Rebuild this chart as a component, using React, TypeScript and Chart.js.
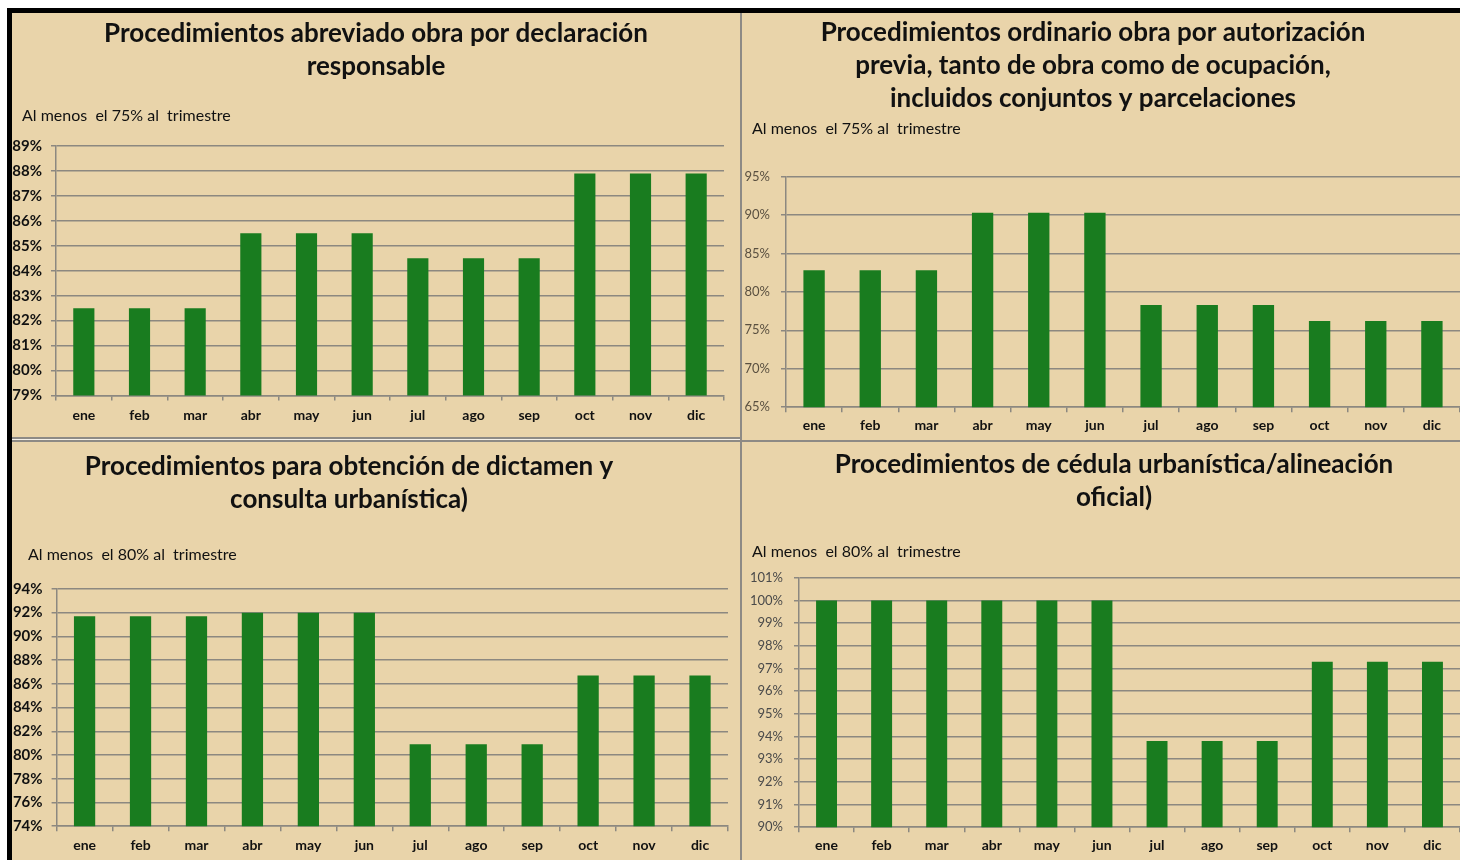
import React, { useEffect, useRef } from 'react';
import { Chart, registerables } from 'chart.js';

Chart.register(...registerables);

// ---------- data ----------
const months = ['ene', 'feb', 'mar', 'abr', 'may', 'jun', 'jul', 'ago', 'sep', 'oct', 'nov', 'dic'];

const abreviadoTitle = ['Procedimientos abreviado obra por declaración', 'responsable'];
const abreviadoNote = 'Al menos  el 75% al  trimestre';
const abreviadoValues = [82.5, 82.5, 82.5, 85.5, 85.5, 85.5, 84.5, 84.5, 84.5, 87.9, 87.9, 87.9];
const abreviadoAxis = { min: 79, max: 89, step: 1 };

const ordinarioTitle = [
  'Procedimientos ordinario obra por autorización',
  'previa, tanto de obra como de ocupación,',
  'incluidos conjuntos y parcelaciones',
];
const ordinarioNote = 'Al menos  el 75% al  trimestre';
const ordinarioValues = [82.8, 82.8, 82.8, 90.3, 90.3, 90.3, 78.3, 78.3, 78.3, 76.2, 76.2, 76.2];
const ordinarioAxis = { min: 65, max: 95, step: 5 };

const dictamenTitle = ['Procedimientos para obtención de dictamen y', 'consulta urbanística)'];
const dictamenNote = 'Al menos  el 80% al  trimestre';
const dictamenValues = [91.7, 91.7, 91.7, 92.0, 92.0, 92.0, 80.9, 80.9, 80.9, 86.7, 86.7, 86.7];
const dictamenAxis = { min: 74, max: 94, step: 2 };

const cedulaTitle = ['Procedimientos de cédula urbanística/alineación', 'oficial)'];
const cedulaNote = 'Al menos  el 80% al  trimestre';
const cedulaValues = [100, 100, 100, 100, 100, 100, 93.8, 93.8, 93.8, 97.3, 97.3, 97.3];
const cedulaAxis = { min: 90, max: 101, step: 1 };

// ---------- styles ----------
const FONT = 'Lato';
const BG = '#e9d4aa';
const BAR = '#197c1f';
const GRID = '#8c8880';

// Positions the title (centre) and the subtitle (left edge) inside the chart.
const titlePlacer = {
  id: 'titlePlacer',
  afterLayout(chart: any, _args: any, opts: any) {
    const t = chart.titleBlock;
    if (!t || !opts) return;
    if (opts.x != null) {
      const half = (t.right - t.left) / 2;
      t.left = opts.x - half;
      t.right = opts.x + half;
    }
    const sub = (chart.boxes || []).find((b: any) => b !== t && b.constructor === t.constructor);
    if (sub && opts.subX != null) {
      sub.left = opts.subX;
    }
  },
};

type Spec = {
  left: number; top: number; width: number; height: number;
  title: string[]; note: string; values: number[]; axis: { min: number; max: number; step: number };
  titleX: number; subX: number; titlePad: { top: number; bottom: number }; notePadBottom: number;
  pad: { right: number; bottom: number };
  yWidth: number; yPad: number; yBold: boolean; ySize: number; yColor: string; xPad: number;
};

const specs: Spec[] = [
  {
    left: 12, top: 13, width: 728, height: 424,
    title: abreviadoTitle, note: abreviadoNote, values: abreviadoValues, axis: abreviadoAxis,
    titleX: 364, subX: 10, titlePad: { top: 4.5, bottom: 24.7 }, notePadBottom: 21.8,
    pad: { right: 16, bottom: 5.7 },
    yWidth: 44, yPad: 9, yBold: true, ySize: 15, yColor: '#111', xPad: 7,
  },
  {
    left: 742, top: 13, width: 718, height: 426,
    title: ordinarioTitle, note: ordinarioNote, values: ordinarioValues, axis: ordinarioAxis,
    titleX: 351, subX: 10, titlePad: { top: 3.5, bottom: 5.5 }, notePadBottom: 39.5,
    pad: { right: 0, bottom: 0 },
    yWidth: 44, yPad: 11, yBold: false, ySize: 13, yColor: '#5a5040', xPad: 5,
  },
  {
    left: 12, top: 442, width: 728, height: 418,
    title: dictamenTitle, note: dictamenNote, values: dictamenValues, axis: dictamenAxis,
    titleX: 337, subX: 16, titlePad: { top: 8.5, bottom: 30.3 }, notePadBottom: 26.1,
    pad: { right: 12, bottom: 0 },
    yWidth: 44.6, yPad: 9, yBold: true, ySize: 15, yColor: '#111', xPad: 6,
  },
  {
    left: 742, top: 442, width: 718, height: 418,
    title: cedulaTitle, note: cedulaNote, values: cedulaValues, axis: cedulaAxis,
    titleX: 372, subX: 10, titlePad: { top: 6.5, bottom: 29.3 }, notePadBottom: 18.1,
    pad: { right: 0, bottom: 1 },
    yWidth: 57, yPad: 11, yBold: false, ySize: 13, yColor: '#4a4a4a', xPad: 5,
  },
];

function Panel({ spec }: { spec: Spec }) {
  const ref = useRef<HTMLCanvasElement | null>(null);
  useEffect(() => {
    if (!ref.current) return;
    const chart = new Chart(ref.current, {
      type: 'bar',
      data: {
        labels: months,
        datasets: [
          {
            data: spec.values,
            backgroundColor: BAR,
            borderWidth: 0,
            categoryPercentage: 1,
            barPercentage: 0.38,
          },
        ],
      },
      options: {
        responsive: false,
        animation: false,
        events: [],
        layout: { padding: { top: 0, left: 0, right: spec.pad.right, bottom: spec.pad.bottom } },
        plugins: {
          legend: { display: false },
          tooltip: { enabled: false },
          title: {
            display: true,
            text: spec.title,
            color: '#111',
            font: { family: FONT, size: 26, weight: 'bold', lineHeight: '33px' },
            padding: spec.titlePad,
          },
          subtitle: {
            display: true,
            text: spec.note,
            align: 'start',
            color: '#111',
            font: { family: FONT, size: 16, weight: 'normal', lineHeight: '16px' },
            padding: { top: 0, bottom: spec.notePadBottom },
          },
          titlePlacer: { x: spec.titleX, subX: spec.subX },
        } as any,
        scales: {
          x: {
            grid: { drawOnChartArea: false, offset: true, tickLength: 5, color: GRID, lineWidth: 1.5 },
            border: { color: GRID, width: 1.5 },
            ticks: {
              color: '#111',
              font: { family: FONT, size: 14, weight: 'bold' },
              padding: spec.xPad,
              autoSkip: false,
              maxRotation: 0,
            },
          },
          y: {
            min: spec.axis.min,
            max: spec.axis.max,
            grid: { tickLength: 5, color: GRID, lineWidth: 1.5 },
            border: { color: GRID, width: 1.5 },
            afterFit: (scale: any) => {
              scale.width = spec.yWidth;
            },
            ticks: {
              stepSize: spec.axis.step,
              color: spec.yColor,
              font: { family: FONT, size: spec.ySize, weight: spec.yBold ? 'bold' : 'normal' },
              padding: spec.yPad,
              callback: (v: any) => `${v}%`,
            },
          },
        },
      },
      plugins: [titlePlacer as any],
    });
    return () => chart.destroy();
  }, [spec]);
  return (
    <div style={{ position: 'absolute', left: spec.left, top: spec.top, width: spec.width, height: spec.height }}>
      <canvas ref={ref} width={spec.width} height={spec.height} style={{ display: 'block', width: spec.width, height: spec.height }} />
    </div>
  );
}

export default function App() {
  return (
    <div style={{ position: 'absolute', left: 0, top: 0, width: 1460, height: 860, background: '#fff', overflow: 'hidden' }}>
      <div style={{ position: 'absolute', left: 7, top: 8, width: 1453, height: 852, background: '#000' }} />
      <div style={{ position: 'absolute', left: 12, top: 13, width: 1448, height: 847, background: BG }} />
      {/* vertical divider */}
      <div style={{ position: 'absolute', left: 740, top: 13, width: 2, height: 847, background: '#8d8a85' }} />
      {/* horizontal dividers */}
      <div style={{ position: 'absolute', left: 12, top: 437, width: 728, height: 1.5, background: '#8d8a85' }} />
      <div style={{ position: 'absolute', left: 12, top: 438.5, width: 728, height: 1.5, background: '#f4f0e8' }} />
      <div style={{ position: 'absolute', left: 12, top: 440, width: 728, height: 1.5, background: '#8d8a85' }} />
      <div style={{ position: 'absolute', left: 742, top: 440, width: 718, height: 2, background: '#8d8a85' }} />
      {specs.map((s, i) => (
        <Panel key={i} spec={s} />
      ))}
    </div>
  );
}
